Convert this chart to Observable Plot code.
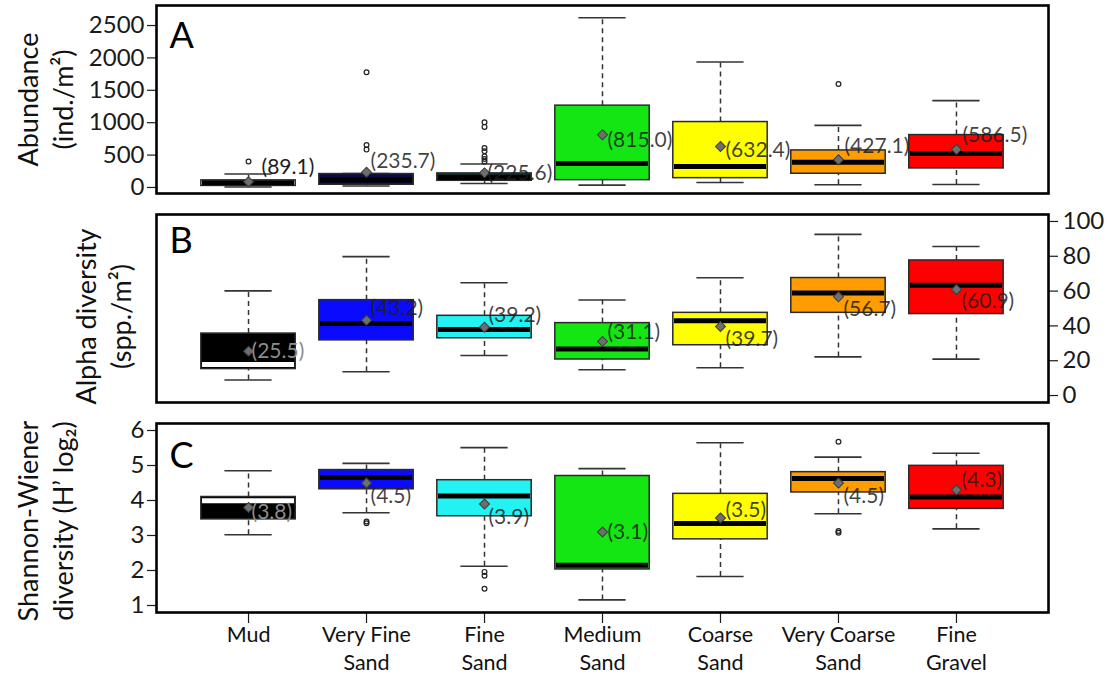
<!DOCTYPE html>
<html><head><meta charset="utf-8">
<script src="https://cdn.jsdelivr.net/npm/d3@7"></script>
<script src="https://cdn.jsdelivr.net/npm/@observablehq/plot@0.6"></script>
<style>body{margin:0;background:#fff;} #chart svg{display:block;}</style>
</head><body><div id="chart"></div>
<script>
// ---------- data ----------
const categories = ["Mud","Very Fine\nSand","Fine\nSand","Medium\nSand","Coarse\nSand","Very Coarse\nSand","Fine\nGravel"];

// Panel A – Abundance (ind./m²)
const abundanceLo   = [8, 22, 62, 36, 77, 42, 46];
const abundanceQ1   = [24, 42, 103, 113, 144, 212, 294];
const abundanceMed  = [72, 116, 155, 371, 325, 391, 526];
const abundanceQ3   = [110, 207, 217, 1263, 1010, 572, 809];
const abundanceHi   = [207, 215, 362, 2619, 1938, 959, 1340];
const abundanceMean = [89.1, 235.7, 225.6, 815.0, 632.4, 427.1, 586.5];
const abundanceOut  = [[400], [1778, 655, 585], [1005, 935, 610, 560, 480, 440, 400], [], [], [1597], []];
const abundanceTicks = [0, 500, 1000, 1500, 2000, 2500];

// Panel B – Alpha diversity (spp./m²)
const alphaLo   = [8.9, 13.7, 23.0, 14.8, 16.0, 22.2, 20.9];
const alphaQ1   = [15.2, 31.7, 32.9, 20.7, 28.9, 47.5, 46.8];
const alphaMed  = [17.9, 41.4, 38.0, 26.8, 43.0, 58.9, 63.3];
const alphaQ3   = [35.6, 54.8, 45.8, 41.6, 47.5, 67.5, 77.6];
const alphaHi   = [60.1, 79.8, 64.8, 54.9, 67.7, 92.6, 85.6];
const alphaMean = [25.5, 43.2, 39.2, 31.1, 39.7, 56.7, 60.9];
const alphaOut  = [[], [], [], [], [], [], []];
const alphaTicks = [0, 20, 40, 60, 80, 100];

// Panel C – Shannon-Wiener diversity (H' log2)
const shannonLo   = [3.02, 3.65, 2.12, 1.16, 1.83, 3.62, 3.19];
const shannonQ1   = [3.46, 4.32, 3.55, 2.03, 2.89, 4.23, 3.76];
const shannonMed  = [3.99, 4.66, 4.13, 2.15, 3.34, 4.63, 4.10];
const shannonQ3   = [4.10, 4.87, 4.58, 4.70, 4.19, 4.81, 4.99];
const shannonHi   = [4.85, 5.06, 5.51, 4.91, 5.65, 5.24, 5.35];
const shannonMean = [3.8, 4.5, 3.9, 3.1, 3.5, 4.5, 4.3];
const shannonOut  = [[], [3.40, 3.35], [1.96, 1.85, 1.48], [], [], [5.68, 3.13, 3.08], []];
const shannonTicks = [1, 2, 3, 4, 5, 6];

// ---------- styles ----------
const FONT = "Lato, 'Open Sans', sans-serif";
const colorsMain = ["#000000", "#0a0aff", "#22f2f2", "#14e614", "#ffff00", "#ff9c00", "#ff0000"];
const colorsA    = ["#ffffff", "#0b0b45", "#102a2a", "#14e614", "#ffff00", "#ff9c00", "#ff0000"];
const medianA    = ["#000", "#000", "#000", "#000", "#000", "#000", "#000"];
const medianBC   = ["#fff", "#000", "#000", "#000", "#000", "#000", "#000"];
const labelDxA = [13, 4, 3, 5, 5, 6, 6];
const labelDyA = [-14, -11, 0, 6, 4, -14, -14];
const labelDxB = [3, 4, 4, 5, 5, 5, 5];
const labelDyB = [0, -12, -12, -9, 13, 12, 12];
const labelDxC = [3, 4, 4, 5, 5, 5, 5];
const labelDyC = [5, 13, 13, 0, -8, 13, -10];

function rowsOf(lo, q1, med, q3, hi, mean) {
  return categories.map((c, k) => ({i: k + 1, cat: c, lo: lo[k], q1: q1[k], med: med[k], q3: q3[k], hi: hi[k], mean: mean[k]}));
}
function outOf(out) {
  return out.flatMap((vals, k) => vals.map(v => ({i: k + 1, v})));
}

function panel(o) {
  const rows = o.rows;
  const marks = [
    // whiskers (dashed)
    Plot.ruleX(rows, {x: "i", y1: "q3", y2: "hi", stroke: "#333", strokeWidth: 1.5, strokeDasharray: "5,4"}),
    Plot.ruleX(rows, {x: "i", y1: "lo", y2: "q1", stroke: "#333", strokeWidth: 1.5, strokeDasharray: "5,4"}),
    // staples
    Plot.ruleY(rows, {y: "hi", x1: d => d.i - 0.2, x2: d => d.i + 0.2, stroke: "#333", strokeWidth: 1.6}),
    Plot.ruleY(rows, {y: "lo", x1: d => d.i - 0.2, x2: d => d.i + 0.2, stroke: "#333", strokeWidth: 1.6}),
    // boxes
    Plot.rect(rows, {x1: d => d.i - 0.4, x2: d => d.i + 0.4, y1: "q1", y2: "q3",
      fill: (d, k) => o.fills[k], stroke: "#2a2a2a", strokeWidth: 1.5}),
    // medians
    Plot.ruleY(rows, {y: "med", x1: d => d.i - 0.4 + 0.01, x2: d => d.i + 0.4 - 0.01,
      stroke: (d, k) => o.medians[k], strokeWidth: 5}),
    // outliers
    Plot.dot(outOf(o.outliers), {x: "i", y: "v", r: 2.4, stroke: "#222", strokeWidth: 1.2, fill: "none"}),
    // mean diamonds
    Plot.dot(rows, {x: "i", y: "mean", symbol: "square", rotate: 45, r: 4, fill: "#6e6e6e", stroke: "#3c3c3c", strokeWidth: 1}),
    // mean labels
    Plot.text(rows, {x: "i", y: "mean", text: d => `(${d.mean.toFixed(1)})`, textAnchor: "start",
      fontSize: 21, fontFamily: FONT,
      fill: (d, k) => k === 0 && o.grayMud ? "#8c8c8c" : "#1e1e1e",
      fillOpacity: (d, k) => k === 0 ? 1 : 0.85}),
    // panel letter
    Plot.text([o.letter], {frameAnchor: "top-left", dx: 13, dy: o.letterDy, fontSize: 36, lineAnchor: "top", textAnchor: "start", fontFamily: FONT, fill: "#000"}),
    // axis title
    Plot.text([o.title], {frameAnchor: "left", dx: o.titleDx, dy: o.titleDy, rotate: -90, fontSize: 27,
      lineHeight: 1.3, textAnchor: "middle", lineAnchor: "middle", fontFamily: FONT, fill: "#111"}),
    // y axis
    Plot.axisY({anchor: o.yAnchor, ticks: o.ticks, tickFormat: d3.format("d"), tickSize: 9,
      tickPadding: o.yAnchor === "right" ? 5 : 3, fontSize: 24, label: null, strokeWidth: 1.2}),
  ];
  if (o.xAxis) {
    marks.push(Plot.axisX({ticks: d3.range(1, 8), tickFormat: () => "", tickSize: 11, strokeWidth: 1.2, label: null}));
    marks.push(Plot.text(rows, {x: "i", text: "cat", frameAnchor: "bottom", dy: 10, lineAnchor: "top",
      fontSize: 21.5, lineHeight: 1.3, fontFamily: FONT, fill: "#111"}));
  }
  marks.push(Plot.frame({stroke: "#000", strokeWidth: 2.6}));

  const svg = Plot.plot({
    width: 1111, height: o.height,
    marginLeft: 156, marginRight: 63, marginTop: o.marginTop, marginBottom: o.marginBottom,
    style: {fontFamily: FONT, color: "#1a1a1a", background: "#fff", overflow: "visible"},
    x: {domain: [0.22, 7.78], axis: null},
    y: {domain: o.domain, axis: null},
    marks
  });
  // apply per-label offsets (styling): first text group = mean labels
  const labels = svg.querySelectorAll("g[aria-label='text']")[0];
  if (labels) {
    labels.querySelectorAll("text").forEach((t, k) => {
      t.setAttribute("dx", o.labelDx[k]);
      t.setAttribute("dy", (parseFloat(t.getAttribute("dy")) || 0) + o.labelDy[k]);
    });
  }
  return svg;
}

const chart = document.getElementById("chart");
chart.append(panel({
  rows: rowsOf(abundanceLo, abundanceQ1, abundanceMed, abundanceQ3, abundanceHi, abundanceMean),
  outliers: abundanceOut, domain: [-93, 2809], ticks: abundanceTicks,
  height: 203, marginTop: 5, marginBottom: 10, yAnchor: "left",
  letter: "A", letterDy: 17, title: "Abundance\n(ind./m²)", titleDx: -112, titleDy: 0,
  fills: colorsA, medians: medianA, grayMud: false, labelDx: labelDxA, labelDy: labelDyA
}));
chart.append(panel({
  rows: rowsOf(alphaLo, alphaQ1, alphaMed, alphaQ3, alphaHi, alphaMean),
  outliers: alphaOut, domain: [-4, 104], ticks: alphaTicks,
  height: 209, marginTop: 11, marginBottom: 10, yAnchor: "right",
  letter: "B", letterDy: 13, title: "Alpha diversity\n(spp./m²)", titleDx: -54, titleDy: 8,
  fills: colorsMain, medians: medianBC, grayMud: true, labelDx: labelDxB, labelDy: labelDyB
}));
chart.append(panel({
  rows: rowsOf(shannonLo, shannonQ1, shannonMed, shannonQ3, shannonHi, shannonMean),
  outliers: shannonOut, domain: [0.8, 6.2], ticks: shannonTicks,
  height: 264, marginTop: 11, marginBottom: 64, yAnchor: "left", xAxis: true,
  letter: "C", letterDy: 19, title: "Shannon-Wiener\ndiversity (H’ log₂)", titleDx: -112, titleDy: 3,
  fills: colorsMain, medians: medianBC, grayMud: true, labelDx: labelDxC, labelDy: labelDyC
}));
</script>
</body></html>
